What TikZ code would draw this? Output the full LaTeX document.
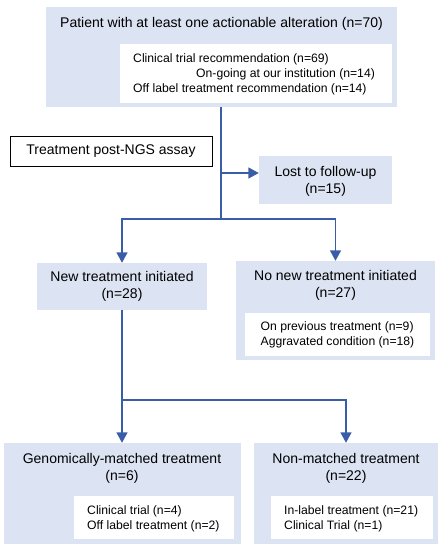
\documentclass[tikz,border=0pt]{standalone}
\usepackage{fontspec}
\setmainfont{Liberation Sans}
\usetikzlibrary{arrows.meta,calc,positioning}
\definecolor{boxblue}{HTML}{DCE3F2}
\definecolor{lineblue}{HTML}{3A5DA8}

\begin{document}
\begin{tikzpicture}[x=1pt,y=-1pt,
  >={Triangle[width=11pt,length=10.5pt]},
  bluebox/.style={fill=boxblue,inner sep=0pt},
  whitebox/.style={fill=white,inner sep=0pt},
  head/.style={font=\fontsize{14}{17}\selectfont,align=center,inner sep=0pt},
  sub/.style={font=\fontsize{12.2}{15}\selectfont,align=left,inner sep=0pt},
  link/.style={draw=lineblue,line width=1.6pt}]
  \useasboundingbox (0,0) rectangle (442,550);

  \node[bluebox,minimum width=351pt,minimum height=100pt] (top) at (221.5,57) {};
  \node[head] (toptxt) at (221.5,24) {Patient with at least one actionable alteration (n=70)};
  \node[whitebox,minimum width=272pt,minimum height=59pt] (topin) at (256,73.5) {};
  \node[sub,anchor=west] (toplist) at (133,74.5) {Clinical trial recommendation (n=69)\\
    \hspace*{63pt}On-going at our institution (n=14)\\
    Off label treatment recommendation (n=14)};

  \node[draw=black,line width=0.8pt,minimum width=202pt,minimum height=30pt,
    font=\fontsize{14}{17}\selectfont] (ngs) at (111,151) {Treatment post-NGS assay};

  \node[bluebox,minimum width=133pt,minimum height=48pt] (lost) at (325.5,180) {};
  \node[head] (losttxt) at (325.5,181) {Lost to follow-up\\(n=15)};

  \node[bluebox,minimum width=170pt,minimum height=47pt] (new) at (122,286.5) {};
  \node[head] (newtxt) at (122,286.5) {New treatment initiated\\(n=28)};

  \node[bluebox,minimum width=199pt,minimum height=99pt] (nonew) at (335.5,310.5) {};
  \node[head] (nonewtxt) at (335.5,285) {No new treatment initiated\\(n=27)};
  \node[whitebox,minimum width=185pt,minimum height=43pt] (nonewin) at (337.5,334) {};
  \node[sub] (nonewlist) at (337.5,335) {On previous treatment (n=9)\\Aggravated condition (n=18)};

  \node[bluebox,minimum width=237pt,minimum height=101pt] (gen) at (122,493.5) {};
  \node[head] (gentxt) at (122,468.5) {Genomically-matched treatment\\(n=6)};
  \node[whitebox,minimum width=160pt,minimum height=43pt] (genin) at (154,517.5) {};
  \node[sub,anchor=west] (genlist) at (87,518.5) {Clinical trial (n=4)\\Off label treatment (n=2)};

  \node[bluebox,minimum width=184pt,minimum height=101pt] (non) at (346,493.5) {};
  \node[head] (nontxt) at (346,468.5) {Non-matched treatment\\(n=22)};
  \node[whitebox,minimum width=162pt,minimum height=43pt] (nonin) at (352,517.5) {};
  \node[sub,anchor=west] (nonlist) at (284,518.5) {In-label treatment (n=21)\\Clinical Trial (n=1)};

  \coordinate (lostbr) at (221,173);
  \coordinate (split) at (221,219);
  \coordinate (split2) at (122,400);
  \draw[link] (top.south -| split) -- (split);
  \draw[link,->] (lostbr) -- (lostbr -| lost.west);
  \draw[link,->] (split) -| (new.north);
  \draw[link,->] (split) -| (nonew.north);
  \draw[link] (new.south) -- (split2);
  \draw[link,->] (split2) -| (non.north);
  \draw[link,->] (split2) -- (gen.north);
\end{tikzpicture}
\end{document}
